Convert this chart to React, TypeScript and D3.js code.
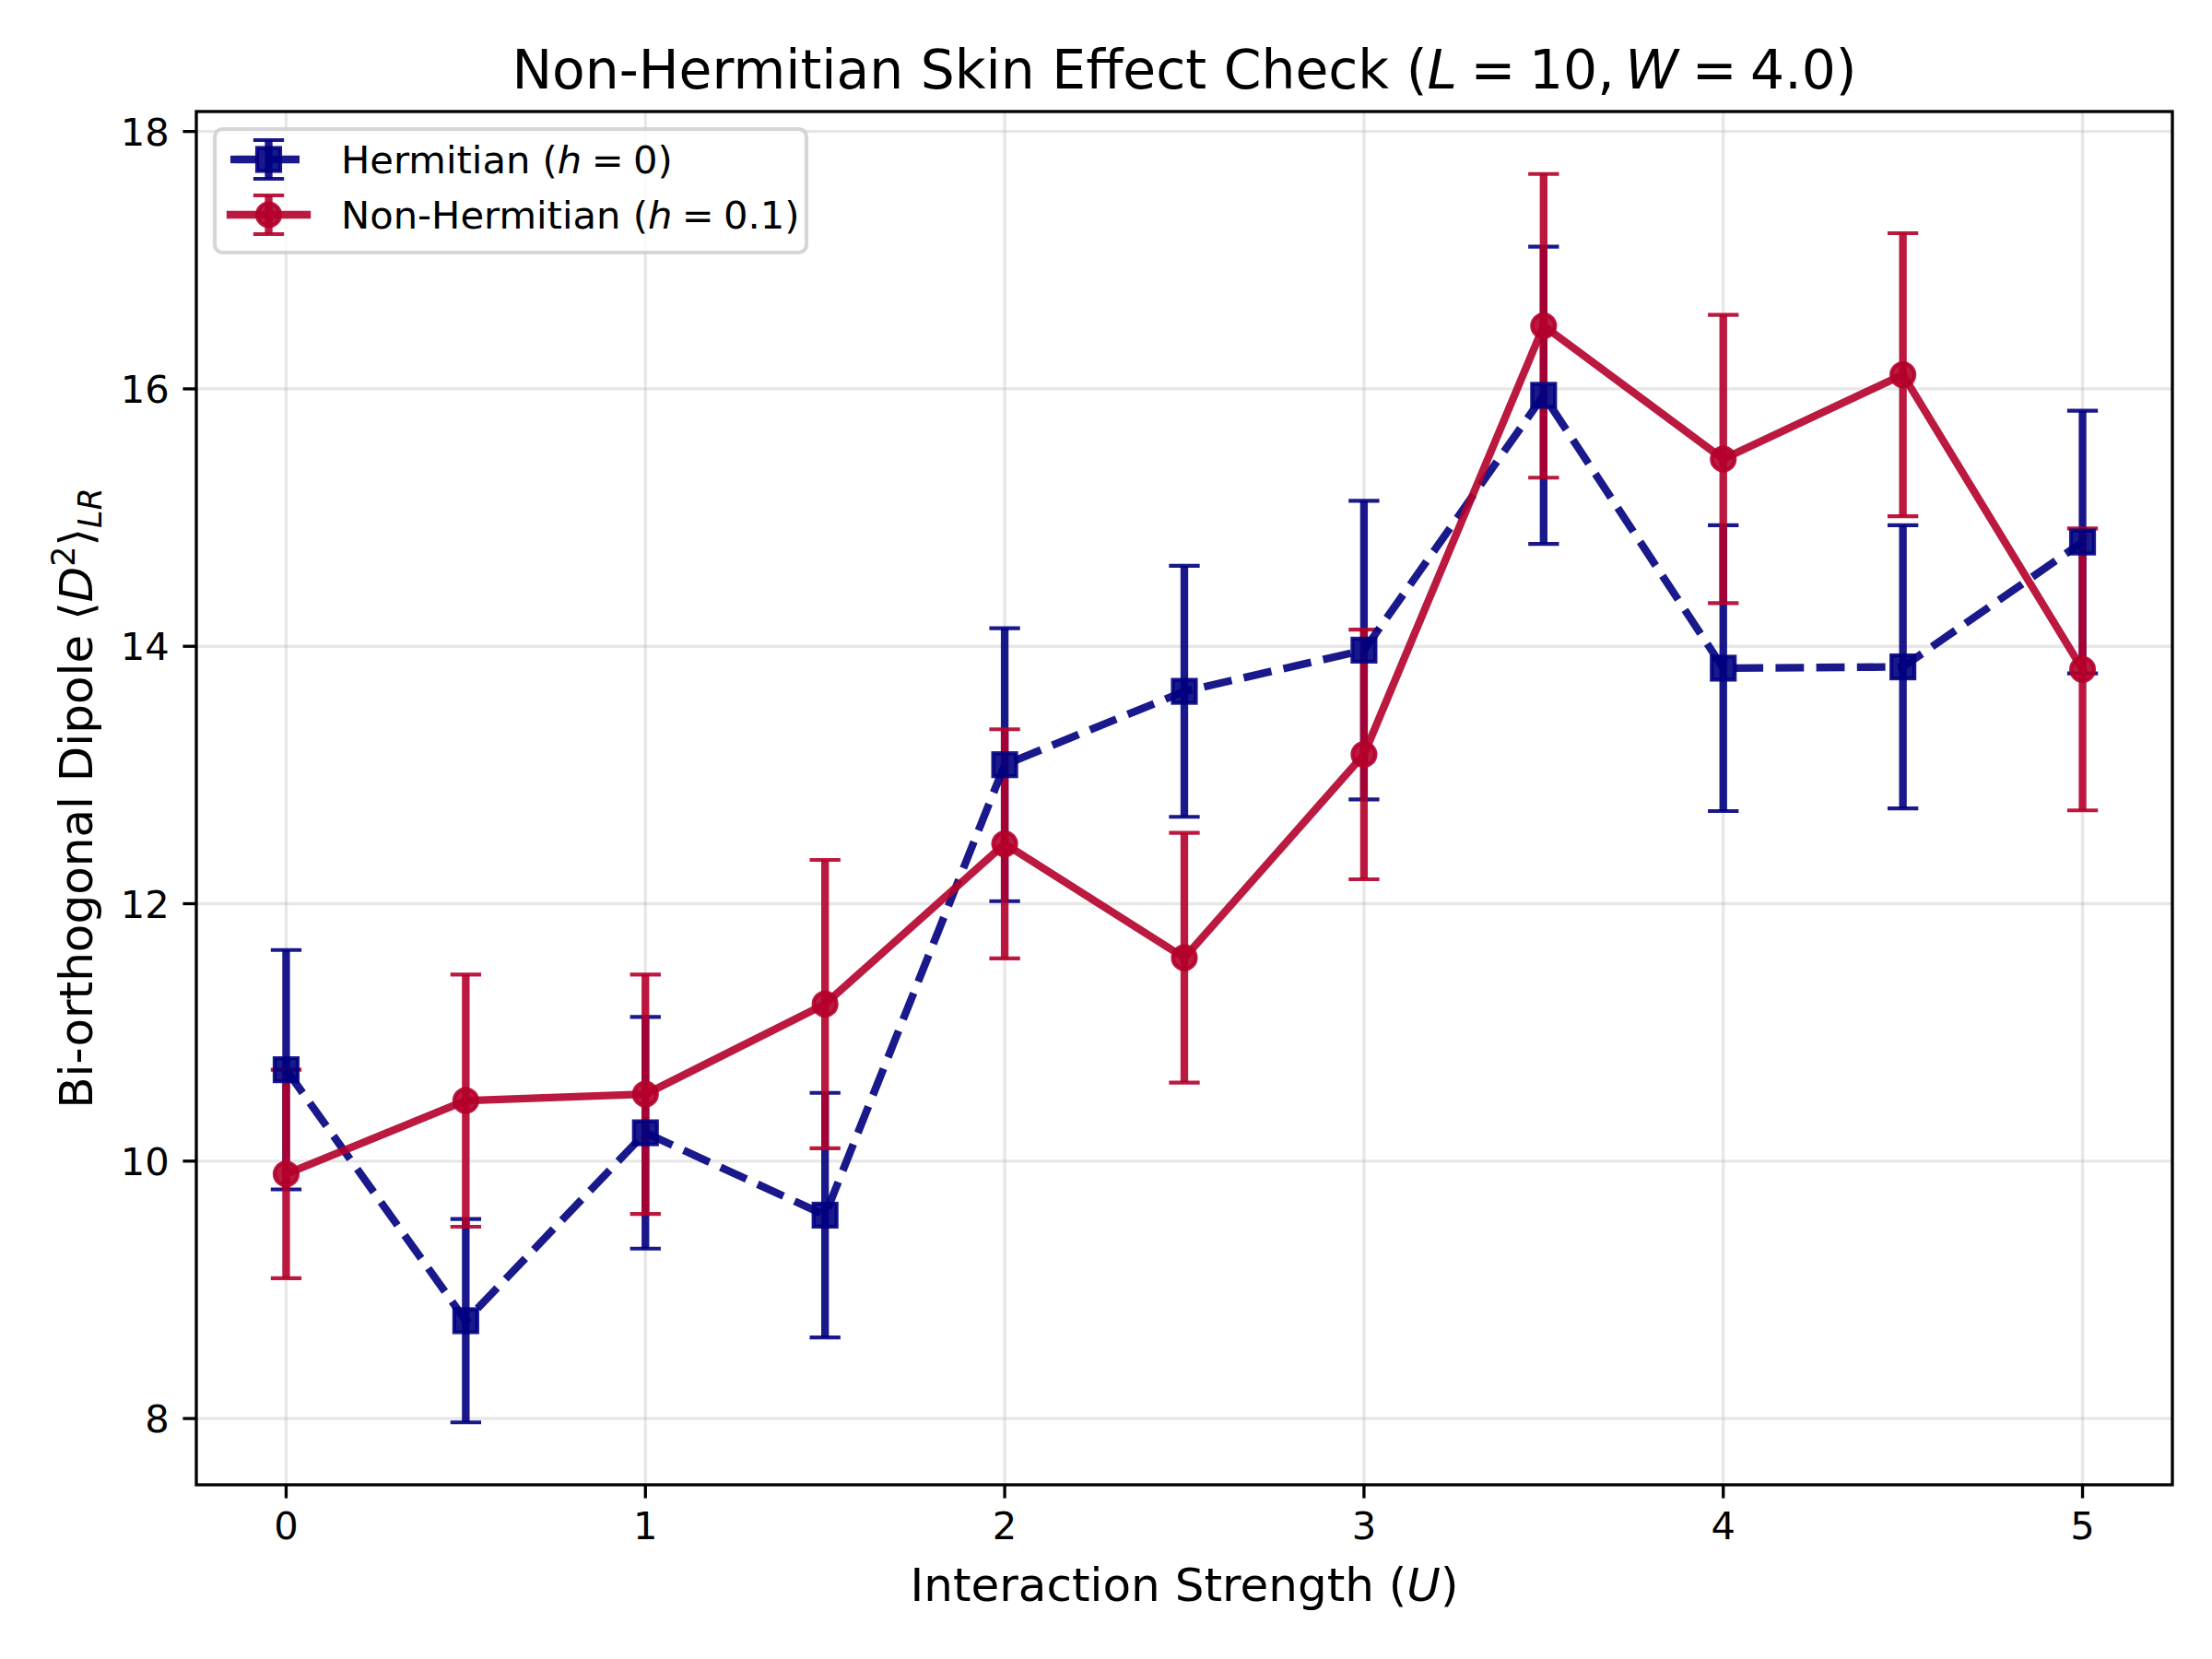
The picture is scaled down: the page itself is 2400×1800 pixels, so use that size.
import * as d3 from "d3"

// interaction strength values
const U = [0, 0.5, 1, 1.5, 2, 2.5, 3, 3.5, 4, 4.5, 5]

// Hermitian (h = 0)
const hermitian = [10.71, 8.76, 10.22, 9.58, 13.08, 13.65, 13.97, 15.95, 13.83, 13.84, 14.81]
const hermitianErr = [0.93, 0.79, 0.9, 0.95, 1.06, 0.975, 1.16, 1.155, 1.11, 1.1, 1.02]

// Non-Hermitian (h = 0.1)
const nonHermitian = [9.9, 10.47, 10.52, 11.22, 12.465, 11.58, 13.16, 16.49, 15.455, 16.11, 13.82]
const nonHermitianErr = [0.81, 0.98, 0.93, 1.12, 0.89, 0.97, 0.97, 1.18, 1.12, 1.1, 1.095]

const xTicks = [0, 1, 2, 3, 4, 5]
const yTicks = [8, 10, 12, 14, 16, 18]

const WIDTH = 2400
const HEIGHT = 1800
const PT = 300 / 72 // figure saved at 300 dpi
const FONT = "'DejaVu Sans', sans-serif"
const SP = "\u2005" // mathtext-ish space around "="

const plot = { left: 213, right: 2357, top: 121, bottom: 1611 }

// matplotlib style 5% margins
const padded = (lo: number, hi: number) => {
  const p = (hi - lo) * 0.05
  return [lo - p, hi + p]
}

const series = [
  {
    key: "herm",
    y: hermitian,
    err: hermitianErr,
    color: "#000080",
    dash: `${3.7 * 2 * PT},${1.6 * 2 * PT}`,
    marker: "square",
  },
  {
    key: "nonherm",
    y: nonHermitian,
    err: nonHermitianErr,
    color: "#B4002A",
    dash: null as string | null,
    marker: "circle",
  },
]

const ALPHA = 0.9
const LW = 2 * PT
const MS = 6 * PT
const MEW = 1 * PT
const CAP = 4 * PT

function Marker({ kind, cx, cy, color }: { kind: string; cx: number; cy: number; color: string }) {
  if (kind === "square") {
    return (
      <rect
        x={cx - MS / 2}
        y={cy - MS / 2}
        width={MS}
        height={MS}
        fill={color}
        fillOpacity={ALPHA}
        stroke={color}
        strokeOpacity={ALPHA}
        strokeWidth={MEW}
      />
    )
  }
  return (
    <circle
      cx={cx}
      cy={cy}
      r={MS / 2}
      fill={color}
      fillOpacity={ALPHA}
      stroke={color}
      strokeOpacity={ALPHA}
      strokeWidth={MEW}
    />
  )
}

function ErrorBar({ cx, y0, y1, color }: { cx: number; y0: number; y1: number; color: string }) {
  return (
    <g stroke={color} strokeOpacity={ALPHA}>
      <line x1={cx} x2={cx} y1={y0} y2={y1} strokeWidth={LW} />
      <line x1={cx - CAP} x2={cx + CAP} y1={y0} y2={y0} strokeWidth={MEW} />
      <line x1={cx - CAP} x2={cx + CAP} y1={y1} y2={y1} strokeWidth={MEW} />
    </g>
  )
}

export default function App() {
  const x = d3
    .scaleLinear()
    .domain(padded(d3.min(U)!, d3.max(U)!))
    .range([plot.left, plot.right])

  const lows = series.flatMap((s) => s.y.map((v, i) => v - s.err[i]))
  const highs = series.flatMap((s) => s.y.map((v, i) => v + s.err[i]))
  const y = d3
    .scaleLinear()
    .domain(padded(d3.min(lows)!, d3.max(highs)!))
    .range([plot.bottom, plot.top])

  const line = (vals: number[]) =>
    d3
      .line<number>()
      .x((_, i) => x(U[i]))
      .y((d) => y(d))(vals) || ""

  const cx = (plot.left + plot.right) / 2
  const cy = (plot.top + plot.bottom) / 2
  const tickLen = 3.5 * PT
  const spineW = 0.8 * PT

  // legend layout
  const lg = { x: 233, y: 140, w: 642, h: 134 }
  const rows = [173, 233]
  const handleX0 = 250
  const handleX1 = 333
  const handleC = (handleX0 + handleX1) / 2

  return (
    <svg
      width={WIDTH}
      height={HEIGHT}
      viewBox={`0 0 ${WIDTH} ${HEIGHT}`}
      style={{ position: "absolute", left: 0, top: 0, background: "#fff" }}
      fontFamily={FONT}
    >
      <rect width={WIDTH} height={HEIGHT} fill="#fff" />

      {/* grid */}
      <g stroke="#b0b0b0" strokeOpacity={0.3} strokeWidth={0.8 * PT}>
        {xTicks.map((t) => (
          <line key={`gx${t}`} x1={x(t)} x2={x(t)} y1={plot.top} y2={plot.bottom} />
        ))}
        {yTicks.map((t) => (
          <line key={`gy${t}`} x1={plot.left} x2={plot.right} y1={y(t)} y2={y(t)} />
        ))}
      </g>

      {/* error bars first, then the data lines on top */}
      {series.map((s) => (
        <g key={`eb-${s.key}`}>
          {s.y.map((v, i) => (
            <ErrorBar key={i} cx={x(U[i])} y0={y(v + s.err[i])} y1={y(v - s.err[i])} color={s.color} />
          ))}
        </g>
      ))}

      {series.map((s) => (
        <g key={`ln-${s.key}`}>
          <path
            d={line(s.y)}
            fill="none"
            stroke={s.color}
            strokeOpacity={ALPHA}
            strokeWidth={LW}
            strokeDasharray={s.dash ?? undefined}
            strokeLinejoin="round"
            strokeLinecap={s.dash ? "butt" : "square"}
          />
          {s.y.map((v, i) => (
            <Marker key={i} kind={s.marker} cx={x(U[i])} cy={y(v)} color={s.color} />
          ))}
        </g>
      ))}

      {/* spines */}
      <rect
        x={plot.left}
        y={plot.top}
        width={plot.right - plot.left}
        height={plot.bottom - plot.top}
        fill="none"
        stroke="#000"
        strokeWidth={spineW}
      />

      {/* x axis */}
      <g fontSize={10 * PT} textAnchor="middle">
        {xTicks.map((t) => (
          <g key={`xt${t}`}>
            <line x1={x(t)} x2={x(t)} y1={plot.bottom} y2={plot.bottom + tickLen} stroke="#000" strokeWidth={spineW} />
            <text x={x(t)} y={1670}>
              {t}
            </text>
          </g>
        ))}
      </g>

      {/* y axis */}
      <g fontSize={10 * PT} textAnchor="end">
        {yTicks.map((t) => (
          <g key={`yt${t}`}>
            <line x1={plot.left - tickLen} x2={plot.left} y1={y(t)} y2={y(t)} stroke="#000" strokeWidth={spineW} />
            <text x={plot.left - tickLen - 3.5 * PT} y={y(t) + 15}>
              {t}
            </text>
          </g>
        ))}
      </g>

      {/* labels */}
      <text x={cx} y={1737} textAnchor="middle" fontSize={12 * PT}>
        Interaction Strength (<tspan fontStyle="italic">U</tspan>)
      </text>

      <text
        transform={`translate(100,${cy}) rotate(-90)`}
        textAnchor="middle"
        fontSize={12 * PT}
      >
        Bi-orthogonal Dipole ⟨<tspan fontStyle="italic">D</tspan>
        <tspan fontSize={12 * PT * 0.7} dy={-19}>2</tspan>
        <tspan dy={19}>⟩</tspan>
        <tspan fontStyle="italic" fontSize={12 * PT * 0.7} dy={10}>LR</tspan>
      </text>

      <text x={cx} y={96} textAnchor="middle" fontSize={14 * PT}>
        Non-Hermitian Skin Effect Check (<tspan fontStyle="italic">L</tspan>
        {`${SP}=${SP}10,\u2009`}
        <tspan fontStyle="italic">W</tspan>
        {`${SP}=${SP}4.0)`}
      </text>

      {/* legend */}
      <g>
        <rect
          x={lg.x}
          y={lg.y}
          width={lg.w}
          height={lg.h}
          rx={0.2 * 10 * PT}
          fill="#fff"
          fillOpacity={0.8}
          stroke="#cccccc"
          strokeOpacity={0.8}
          strokeWidth={1 * PT}
        />
        {series.map((s, i) => (
          <g key={`lg-${s.key}`}>
            <ErrorBar cx={handleC} y0={rows[i] - 21} y1={rows[i] + 21} color={s.color} />
            <path
              d={`M${handleX0},${rows[i]}H${handleX1}`}
              stroke={s.color}
              strokeOpacity={ALPHA}
              strokeWidth={LW}
              strokeDasharray={s.dash ?? undefined}
              strokeLinecap={s.dash ? "butt" : "square"}
            />
            <Marker kind={s.marker} cx={handleC} cy={rows[i]} color={s.color} />
          </g>
        ))}
        <g fontSize={10 * PT}>
          <text x={370} y={rows[0] + 15}>
            Hermitian (<tspan fontStyle="italic">h</tspan>
            {`${SP}=${SP}0)`}
          </text>
          <text x={370} y={rows[1] + 15}>
            Non-Hermitian (<tspan fontStyle="italic">h</tspan>
            {`${SP}=${SP}0.1)`}
          </text>
        </g>
      </g>
    </svg>
  )
}
